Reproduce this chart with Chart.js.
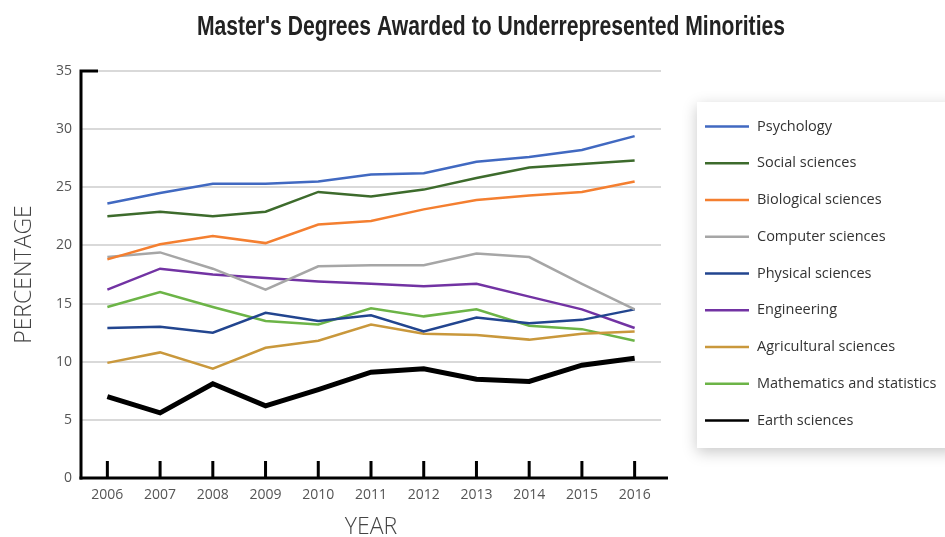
<!DOCTYPE html>
<html>
<head>
<meta charset="utf-8">
<script src="https://cdn.jsdelivr.net/npm/chart.js@4/dist/chart.umd.min.js"></script>
<style>
  html, body { margin: 0; padding: 0; background: #fff; }
  #wrap { width: 945px; height: 537px; position: relative; }
</style>
</head>
<body>
<div id="wrap"><canvas id="c" width="945" height="537"></canvas></div>
<script>
// Years along the x axis
const years = ['2006','2007','2008','2009','2010','2011','2012','2013','2014','2015','2016'];

// Share of master's degrees (%) by field
const psychology   = [23.6, 24.5, 25.3, 25.3, 25.5, 26.1, 26.2, 27.2, 27.6, 28.2, 29.4];
const socialSci    = [22.5, 22.9, 22.5, 22.9, 24.6, 24.2, 24.8, 25.8, 26.7, 27.0, 27.3];
const biologicalSci= [18.8, 20.1, 20.8, 20.2, 21.8, 22.1, 23.1, 23.9, 24.3, 24.6, 25.5];
const computerSci  = [19.0, 19.4, 18.0, 16.2, 18.2, 18.3, 18.3, 19.3, 19.0, 16.7, 14.5];
const physicalSci  = [12.9, 13.0, 12.5, 14.2, 13.5, 14.0, 12.6, 13.8, 13.3, 13.6, 14.5];
const engineering  = [16.2, 18.0, 17.5, 17.2, 16.9, 16.7, 16.5, 16.7, 15.6, 14.5, 12.9];
const agricultural = [ 9.9, 10.8,  9.4, 11.2, 11.8, 13.2, 12.4, 12.3, 11.9, 12.4, 12.6];
const mathStats    = [14.7, 16.0, 14.7, 13.5, 13.2, 14.6, 13.9, 14.5, 13.1, 12.8, 11.8];
const earthSci     = [ 7.0,  5.6,  8.1,  6.2,  7.6,  9.1,  9.4,  8.5,  8.3,  9.7, 10.3];

// Y axis ticks
const yTicks = [0, 5, 10, 15, 20, 25, 30, 35];

const seriesNames = ['Psychology','Social sciences','Biological sciences','Computer sciences',
  'Physical sciences','Engineering','Agricultural sciences','Mathematics and statistics','Earth sciences'];
const seriesValues = [psychology, socialSci, biologicalSci, computerSci, physicalSci,
  engineering, agricultural, mathStats, earthSci];
const seriesColors = ['#4169c1','#3d6b2c','#f47f30','#a6a6a6','#22458f','#7233a3','#c9983c','#6cb447','#000000'];
const seriesWidths = [2.5, 2.5, 2.5, 2.5, 2.5, 2.5, 2.5, 2.5, 5];

const FONT = '"Open Sans", "Noto Sans", sans-serif';
const TITLE = "Master's Degrees Awarded to Underrepresented Minorities";

// Title, axis frame and legend box drawn on the canvas
const decorations = {
  id: 'decorations',
  beforeDatasetsDraw(chart) {
    const ctx = chart.ctx;
    const area = chart.chartArea;
    const xs = chart.scales.x;
    ctx.save();
    ctx.strokeStyle = '#000';
    ctx.lineWidth = 3;
    ctx.lineCap = 'butt';
    // y axis with a short cap at the top
    ctx.beginPath();
    ctx.moveTo(area.left, area.top - 1.5);
    ctx.lineTo(area.left, area.bottom + 1.5);
    ctx.moveTo(area.left - 1.5, area.top);
    ctx.lineTo(area.left + 17, area.top);
    ctx.stroke();
    // x axis
    ctx.beginPath();
    ctx.moveTo(area.left - 1.5, area.bottom);
    ctx.lineTo(area.right + 7, area.bottom);
    ctx.stroke();
    // category tick marks
    ctx.beginPath();
    years.forEach((y, i) => {
      const px = xs.getPixelForValue(i);
      ctx.moveTo(px, area.bottom);
      ctx.lineTo(px, area.bottom - 17);
    });
    ctx.stroke();
    ctx.restore();
  },
  afterDraw(chart) {
    const ctx = chart.ctx;
    ctx.save();
    // condensed bold title
    ctx.fillStyle = '#222';
    ctx.font = 'bold 27px "Liberation Sans", Arial, sans-serif';
    ctx.textAlign = 'center';
    ctx.textBaseline = 'middle';
    const w = ctx.measureText(TITLE).width;
    const sx = 588 / w;
    ctx.save();
    ctx.translate(491, 28);
    ctx.scale(sx, 1);
    ctx.fillText(TITLE, 0, 0);
    ctx.restore();

    // legend box with soft shadow
    const bx = 697, by = 102, bw = 260, bh = 346;
    ctx.save();
    ctx.shadowColor = 'rgba(0,0,0,0.22)';
    ctx.shadowBlur = 14;
    ctx.shadowOffsetY = 4;
    ctx.fillStyle = '#fff';
    ctx.fillRect(bx, by, bw, bh);
    ctx.restore();

    ctx.font = '14.5px ' + FONT;
    ctx.textAlign = 'left';
    ctx.textBaseline = 'middle';
    chart.data.datasets.forEach((ds, i) => {
      const cy = 126.5 + i * 36.75;
      ctx.strokeStyle = ds.borderColor;
      ctx.lineWidth = 2.5;
      ctx.beginPath();
      ctx.moveTo(705, cy);
      ctx.lineTo(749, cy);
      ctx.stroke();
      ctx.fillStyle = '#333';
      ctx.fillText(ds.label, 757, cy);
    });
    ctx.restore();
  }
};

new Chart(document.getElementById('c'), {
  type: 'line',
  data: {
    labels: years,
    datasets: seriesNames.map((name, i) => ({
      label: name,
      data: seriesValues[i],
      borderColor: seriesColors[i],
      backgroundColor: seriesColors[i],
      borderWidth: seriesWidths[i],
      pointRadius: 0,
      tension: 0,
      fill: false,
      borderJoinStyle: 'miter'
    }))
  },
  options: {
    responsive: false,
    animation: false,
    layout: { padding: { top: 71, right: 284, left: 0, bottom: 0 } },
    plugins: {
      legend: { display: false },
      title: { display: false },
      tooltip: { enabled: false }
    },
    scales: {
      x: {
        offset: true,
        grid: { display: false, drawTicks: false },
        border: { display: false },
        ticks: { color: '#555', font: { family: FONT, size: 14 }, padding: 9, maxRotation: 0 },
        title: { display: true, text: 'YEAR', color: '#444', font: { family: FONT, size: 23, weight: '300', lineHeight: 0.8 }, padding: 0 },
        afterFit(scale) { scale.height = 59; }
      },
      y: {
        min: 0,
        max: 35,
        afterBuildTicks(scale) { scale.ticks = yTicks.map(v => ({ value: v })); },
        grid: { color: '#d9d9d9', lineWidth: 2, drawTicks: false },
        border: { display: false },
        ticks: { color: '#555', font: { family: FONT, size: 14 }, padding: 9 },
        title: { display: true, text: 'PERCENTAGE', color: '#444', font: { family: FONT, size: 23, weight: '300', lineHeight: 1 }, padding: { top: 13, bottom: 0 } },
        afterFit(scale) { scale.width = 81; }
      }
    }
  },
  plugins: [decorations]
});
</script>
</body>
</html>
